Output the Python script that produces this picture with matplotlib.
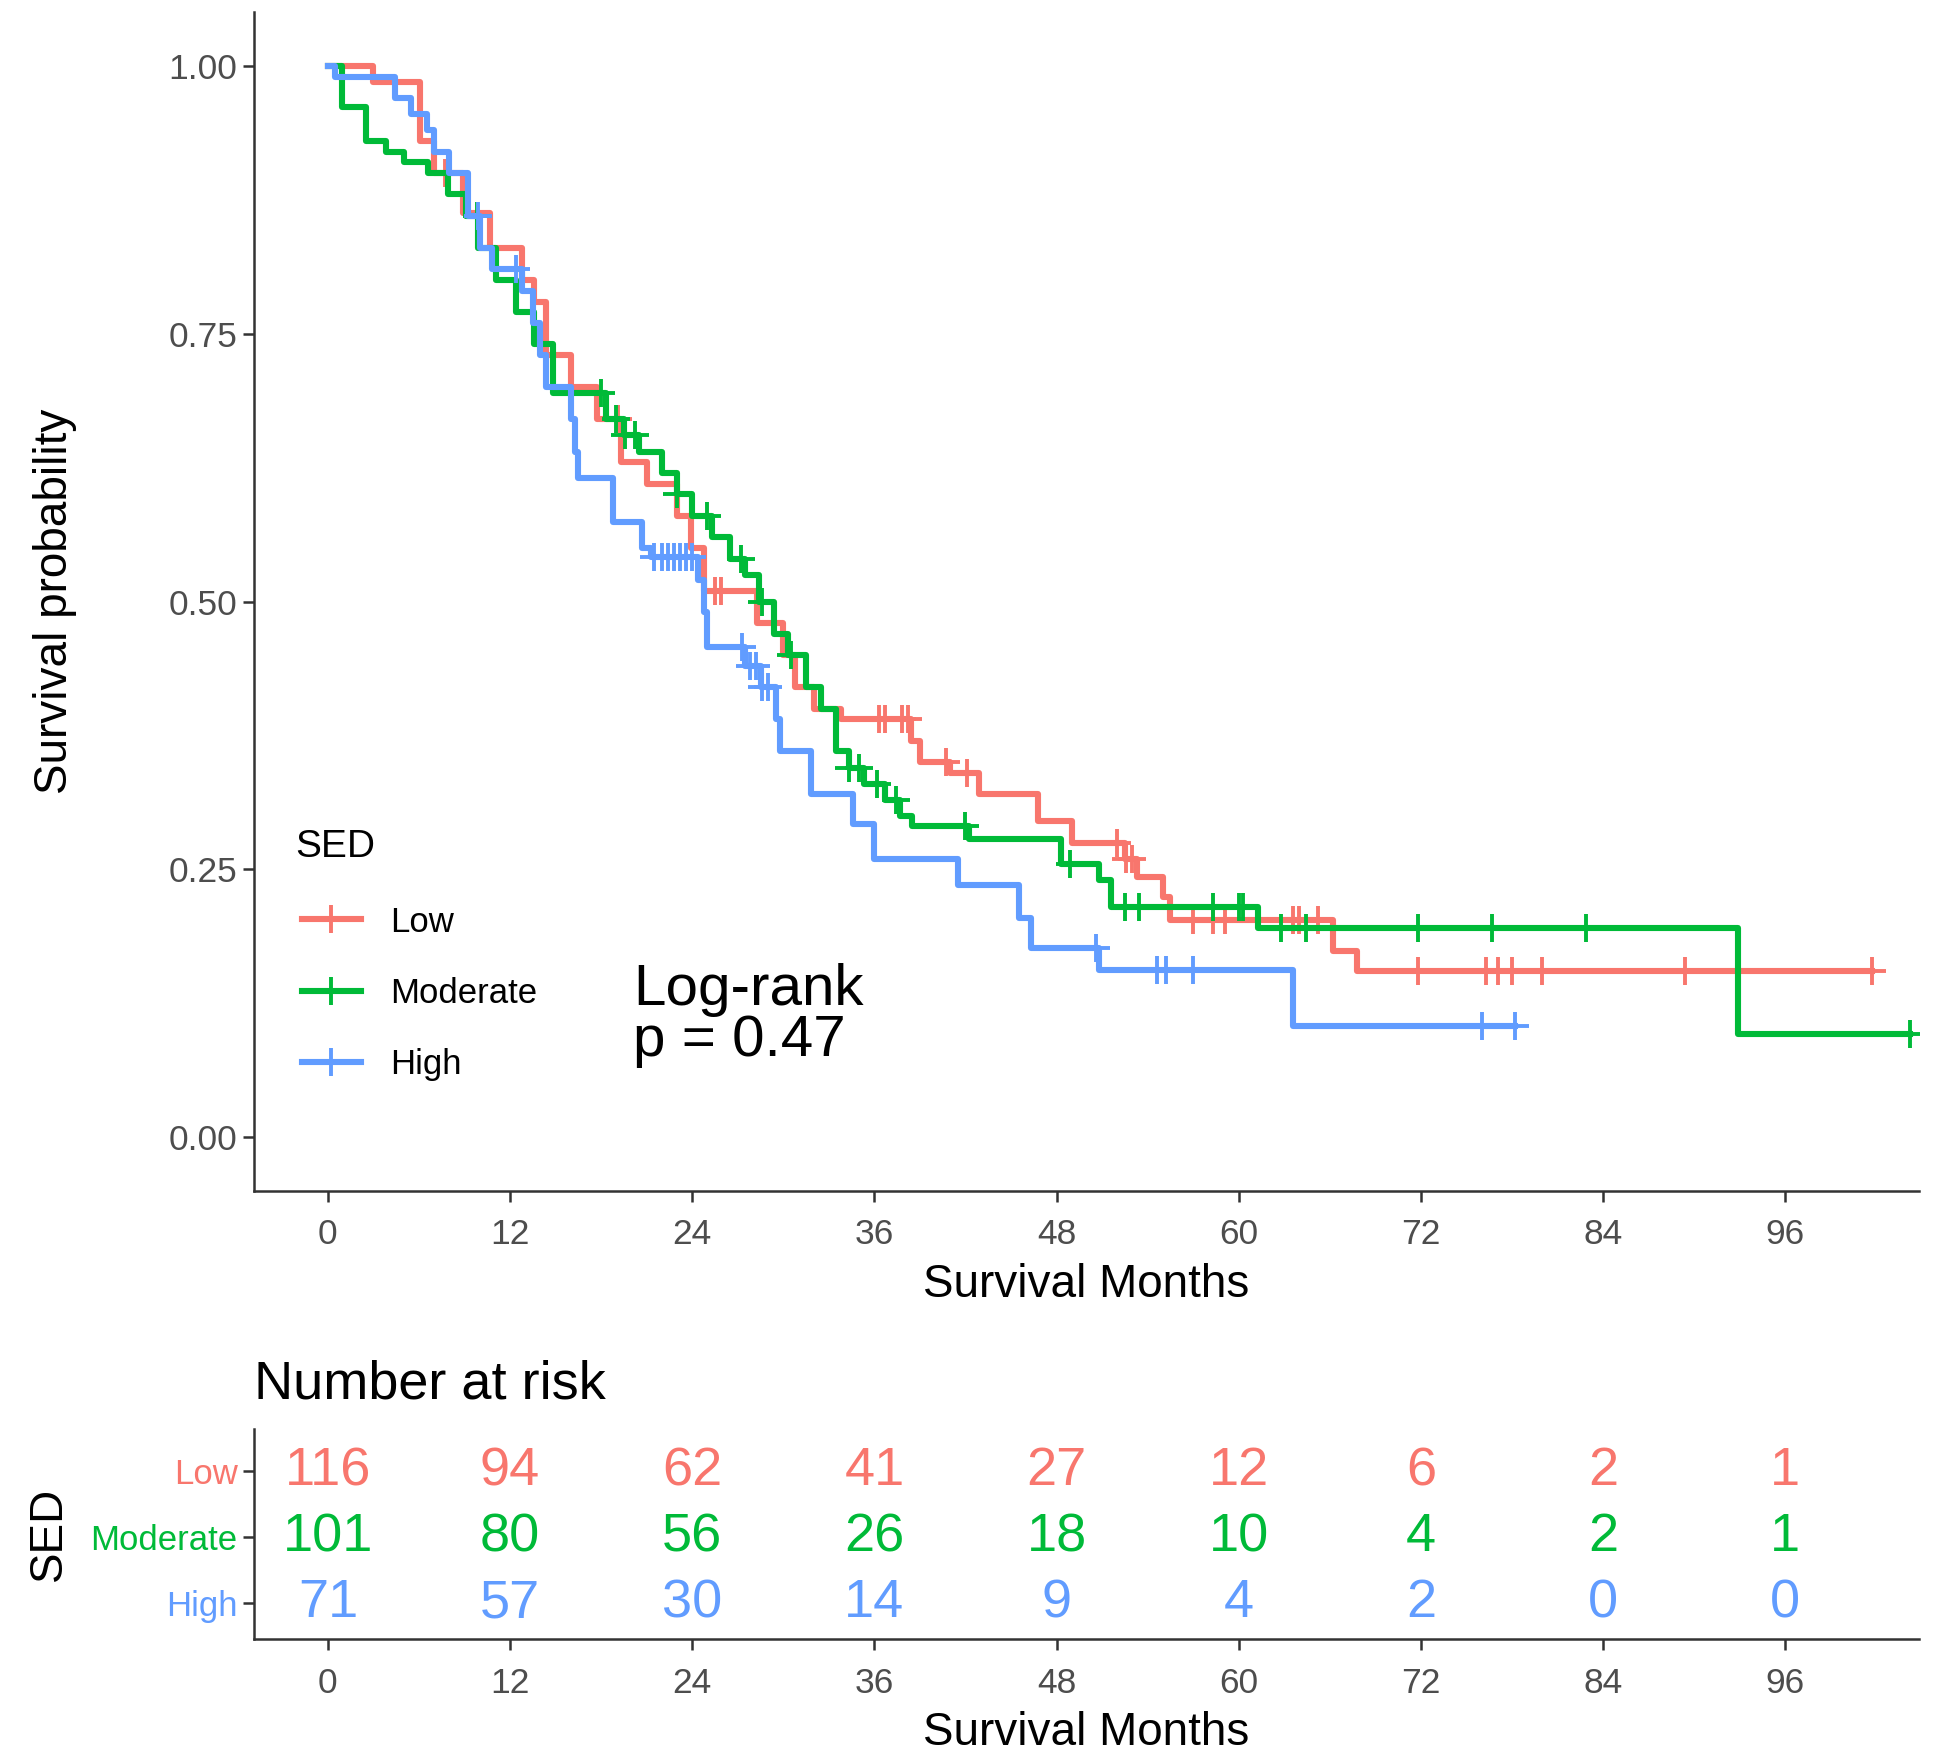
import matplotlib
matplotlib.use("Agg")
import matplotlib.pyplot as plt
from matplotlib.lines import Line2D
import numpy as np

plt.rcParams['font.family'] = ['Liberation Sans', 'DejaVu Sans']

groups = ['Low', 'Moderate', 'High']
colors = ['#F8766D', '#00BA38', '#619CFF']

# step times (months) and survival after each step
low_t = [0, 3.0, 6.1, 7.0, 8.9, 10.7, 12.8, 13.6, 14.4, 16.0, 17.7, 19.3, 21.0, 23.0, 23.9, 24.8,
         28.3, 30.0, 30.8, 32.0, 33.8, 38.4, 39.0, 41.0, 42.9, 46.8, 49.0, 52.5, 53.3, 55.0, 55.5,
         66.2, 67.8]
low_s = [1.0, 0.985, 0.93, 0.90, 0.863, 0.83, 0.80, 0.78, 0.73, 0.70, 0.67, 0.63, 0.61, 0.58, 0.55, 0.51,
         0.48, 0.45, 0.42, 0.40, 0.39, 0.37, 0.35, 0.34, 0.32, 0.295, 0.275, 0.26, 0.243, 0.224, 0.203,
         0.174, 0.155]
low_cens = [7.7, 19.1, 25.5, 25.9, 36.3, 36.7, 37.8, 38.2, 40.7, 42.1, 52.0, 52.6, 53.0, 57.0, 58.3,
            59.1, 63.6, 64.0, 65.2, 71.8, 76.3, 77.1, 78.0, 80.0, 89.4, 101.7]

mod_t = [0, 0.9, 2.5, 3.8, 5.0, 6.6, 7.9, 9.1, 9.9, 11.1, 12.4, 13.6, 14.8, 18.3, 19.5, 20.5, 22.0,
         23.0, 24.0, 25.3, 26.5, 27.5, 28.4, 29.4, 30.3, 31.5, 32.5, 33.5, 34.3, 35.3, 36.7, 37.7, 38.5,
         42.2, 48.3, 50.8, 51.6, 61.3, 92.9]
mod_s = [1.0, 0.962, 0.93, 0.92, 0.91, 0.90, 0.88, 0.86, 0.83, 0.80, 0.77, 0.74, 0.695, 0.67, 0.655,
         0.64, 0.62, 0.60, 0.58, 0.56, 0.54, 0.525, 0.50, 0.47, 0.45, 0.42, 0.40, 0.36, 0.345, 0.33,
         0.315, 0.30, 0.29, 0.278, 0.255, 0.24, 0.215, 0.195, 0.096]
mod_cens = [9.8, 18.0, 19.0, 19.6, 20.2, 23.0, 25.0, 27.2, 28.6, 30.5, 34.3, 35.0, 36.2, 37.4, 42.0,
            48.9, 52.5, 53.4, 58.3, 60.0, 60.3, 62.8, 64.4, 71.8, 76.7, 82.9, 104.2]

high_t = [0, 0.5, 4.4, 5.5, 6.5, 7.0, 8.0, 9.2, 10.0, 10.8, 12.8, 13.5, 14.0, 14.4, 16.0, 16.3, 16.5,
          18.8, 20.7, 21.3, 24.4, 24.8, 25.0, 27.5, 28.5, 29.5, 29.8, 31.8, 34.6, 36.0, 41.5, 45.5,
          46.3, 50.8, 63.6]
high_s = [1.0, 0.99, 0.97, 0.955, 0.94, 0.92, 0.90, 0.86, 0.83, 0.81, 0.79, 0.76, 0.73, 0.70, 0.67,
          0.64, 0.615, 0.574, 0.55, 0.542, 0.52, 0.49, 0.458, 0.44, 0.42, 0.39, 0.36, 0.32, 0.292,
          0.26, 0.235, 0.205, 0.177, 0.156, 0.104]
high_cens = [9.9, 12.4, 21.5, 22.0, 22.4, 22.8, 23.2, 23.6, 24.0, 27.3, 27.8, 28.2, 28.6, 29.0, 50.6,
             54.6, 55.2, 57.0, 76.0, 78.2]

risk_times = [0, 12, 24, 36, 48, 60, 72, 84, 96]
risk_low = [116, 94, 62, 41, 27, 12, 6, 2, 1]
risk_mod = [101, 80, 56, 26, 18, 10, 4, 2, 1]
risk_high = [71, 57, 30, 14, 9, 4, 2, 0, 0]

curves = [(low_t, low_s, low_cens), (mod_t, mod_s, mod_cens), (high_t, high_s, high_cens)]
risks = [risk_low, risk_mod, risk_high]

LW = 4.4
fig = plt.figure(figsize=(19.5, 17.64), dpi=100)
ax = fig.add_axes([0.130, 0.325, 0.854, 0.668])

for (t, s, c), col in zip(curves, colors):
    t = np.array(t)
    s = np.array(s)
    c = np.array(c)
    end = max(t[-1], c.max())
    tt = np.append(t, end)
    ss = np.append(s, s[-1])
    ax.step(tt, ss, where='post', color=col, lw=LW)
    cs = s[np.searchsorted(t, c, side='right') - 1]
    ax.plot(c, cs, ls='none', marker='+', ms=20, mew=2.8, color=col)

xlim = (-4.9, 104.8)
ax.set_xlim(*xlim)
ax.set_ylim(-0.05, 1.05)
ax.set_xticks(risk_times)
ax.set_yticks([0, 0.25, 0.5, 0.75, 1.0])
ax.set_yticklabels(['0.00', '0.25', '0.50', '0.75', '1.00'])
for sp in ['top', 'right']:
    ax.spines[sp].set_visible(False)
for sp in ['left', 'bottom']:
    ax.spines[sp].set_linewidth(1.8)
    ax.spines[sp].set_color('#333333')
ax.tick_params(labelsize=25.5, labelcolor='#4D4D4D', color='#333333', width=1.8, length=8)
ax.tick_params(axis='x', pad=12)
ax.set_xlabel('Survival Months', fontsize=33, labelpad=8)
ax.set_ylabel('Survival probability', fontsize=33, labelpad=66)

handles = [Line2D([], [], color=col, lw=LW, marker='+', ms=20, mew=2.8) for col in colors]
ax.legend(handles, groups, loc='upper left', bbox_to_anchor=(0.029, 0.242),
          frameon=False, fontsize=25, handlelength=1.7,
          handletextpad=0.85, labelspacing=1.1, borderpad=0, borderaxespad=0)
ax.text(0.025, 0.292, 'SED', transform=ax.transAxes, fontsize=28, ha='left', va='center')

ax.text(20.1, 0.163, 'Log-rank\np = 0.47', fontsize=42, va='top', ha='left', linespacing=0.95)

# risk table
ax2 = fig.add_axes([0.130, 0.071, 0.854, 0.119])
for i, (vals, col) in enumerate(zip(risks, colors)):
    ypos = 3 - i
    for tm, v in zip(risk_times, vals):
        ax2.text(tm, ypos, str(v), color=col, fontsize=39, ha='center', va='center')
ax2.set_xlim(*xlim)
ax2.set_ylim(0.46, 3.64)
ax2.set_xticks(risk_times)
ax2.set_yticks([3, 2, 1])
ax2.set_yticklabels(groups)
for lab, col in zip(ax2.get_yticklabels(), colors):
    lab.set_color(col)
for sp in ['top', 'right']:
    ax2.spines[sp].set_visible(False)
for sp in ['left', 'bottom']:
    ax2.spines[sp].set_linewidth(1.8)
    ax2.spines[sp].set_color('#333333')
ax2.tick_params(axis='x', labelsize=25.5, labelcolor='#4D4D4D', color='#333333', width=1.8,
                length=8, pad=12)
ax2.tick_params(axis='y', labelsize=25, color='#333333', width=1.8, length=8)
ax2.set_xlabel('Survival Months', fontsize=33, labelpad=8)
ax2.set_ylabel('SED', fontsize=33, labelpad=14)
ax2.set_title('Number at risk', fontsize=39, loc='left', pad=22)

fig.savefig('out.png', dpi=100)
